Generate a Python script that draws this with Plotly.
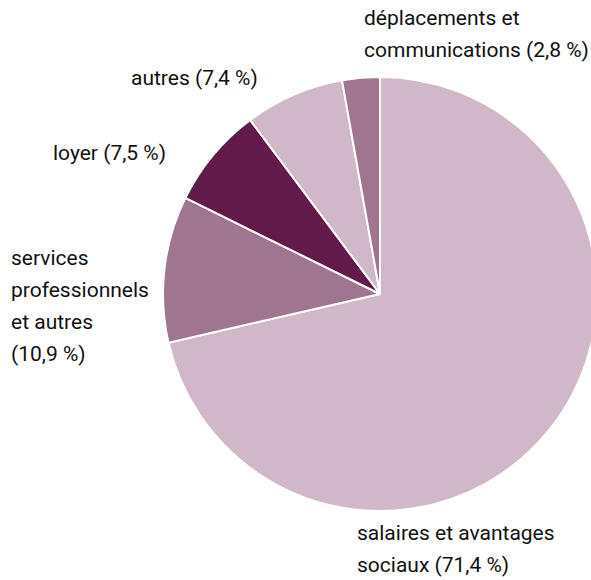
import plotly.graph_objects as go

categories = ["salaires et avantages<br>sociaux", "services<br>professionnels<br>et autres",
              "loyer", "autres", "déplacements et<br>communications"]
values = [71.4, 10.9, 7.5, 7.4, 2.8]
colors = ["#D0B8C9", "#A07590", "#621A4A", "#D0B8C9", "#A07590"]

def fmt(v):
    return f"{v:.1f}".replace(".", ",") + " %"

# figure slightly wider than the 591px window; the pie runs off the right edge as in the reference
W, H = 600, 580
cx, cy, r = 380, 294, 217

fig = go.Figure(go.Pie(
    values=values, labels=[c.replace("<br>", " ") for c in categories],
    sort=False, direction="clockwise", rotation=0,
    marker=dict(colors=colors, line=dict(color="white", width=2)),
    textinfo="none", hoverinfo="label+percent", showlegend=False,
    domain=dict(x=[(cx - r) / W, min(1, (cx + r) / W)], y=[(H - cy - r) / H, (H - cy + r) / H]),
))

# label positions (left x, first-line centre y) in pixels
label_pos = [(356, 533), (10, 258), (52, 153), (130, 78), (363, 18)]
line_gap = 32
FONT = dict(family="Roboto, Arial, sans-serif", size=21, color="#111111")

anns = []
for cat, v, (lx, ly) in zip(categories, values, label_pos):
    lines = cat.split("<br>")
    if len(lines) >= 3:
        lines = lines + ["(" + fmt(v) + ")"]
    else:
        lines[-1] = lines[-1] + " (" + fmt(v) + ")"
    for i, t in enumerate(lines):
        anns.append(dict(x=(lx - 1) / W, y=1 - (ly + i * line_gap) / H,
                         xref="paper", yref="paper", text=t, showarrow=False,
                         xanchor="left", yanchor="middle", font=FONT))

fig.update_layout(width=W, height=H, margin=dict(l=0, r=0, t=0, b=0),
                  paper_bgcolor="white", plot_bgcolor="white", annotations=anns)
fig.write_html("out.html", config={"displayModeBar": False},
               post_script="document.body.style.margin='0';document.body.style.overflow='hidden';"
                           "document.documentElement.style.overflow='hidden';")
